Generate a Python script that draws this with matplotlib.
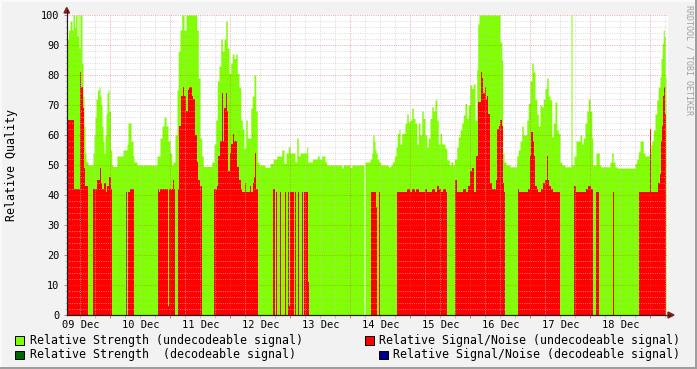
import numpy as np
import matplotlib
matplotlib.use('Agg')
import matplotlib.pyplot as plt
from matplotlib.patches import Rectangle, Polygon
from matplotlib.lines import Line2D
from matplotlib.transforms import blended_transform_factory

plt.rcParams['font.family'] = 'DejaVu Sans Mono'

# hours since 09 Dec 00:00 -> value, each value holds until the next step
green_steps = [
    (6.8, 92), (7.4, 95), (8.0, 98), (8.8, 95), (9.2, 100), (9.8, 96), (10.2, 100), (10.8, 93),
    (11.2, 100), (11.6, 89), (12.0, 100), (12.8, 84), (13.2, 73), (13.6, 63), (14.0, 54), (14.4, 51),
    (15.2, 50), (17.2, 54), (17.6, 60), (18.0, 66), (18.4, 72), (19.0, 75), (19.6, 76), (20.0, 73),
    (20.4, 70), (20.8, 63), (21.2, 58), (21.6, 54), (22.0, 60), (22.4, 67), (22.8, 74), (23.2, 75),
    (23.6, 68), (24.2, 55), (24.7, 50), (25.2, 49.5), (26.8, 53), (29.2, 55), (30.8, 57), (31.2, 64),
    (32.4, 58), (33.2, 53), (33.6, 51), (34.8, 50), (42.8, 53), (44.0, 59), (44.8, 63), (45.6, 66),
    (46.4, 63), (47.2, 58), (48.0, 54), (48.7, 50), (49.2, 51), (50.0, 60), (50.8, 75), (51.3, 88),
    (52.0, 95), (52.7, 100), (53.6, 95), (54.4, 100), (58.7, 95), (59.3, 79), (60.0, 59), (60.7, 53),
    (61.3, 49.5), (64.7, 51), (65.6, 57), (66.3, 65), (66.9, 78), (67.6, 83), (68.3, 92), (68.9, 88),
    (69.6, 92), (70.3, 98), (70.9, 89), (71.6, 80.5), (72.3, 84), (72.9, 87), (73.6, 85.5), (74.3, 87),
    (74.9, 80.5), (75.6, 76), (76.3, 65), (76.9, 62), (77.6, 55.6), (78.3, 65), (78.9, 59), (80.3, 69),
    (80.9, 73), (81.6, 80), (82.3, 68), (82.9, 51), (83.6, 50), (86.0, 49.2), (88.0, 50.5), (89.3, 52),
    (90.7, 53), (92.7, 55), (93.6, 50.5), (94.4, 54), (95.3, 56), (96.0, 54), (98.0, 51), (98.7, 59),
    (99.3, 53), (100.0, 54), (102.7, 56), (103.1, 51), (104.9, 52), (106.9, 53), (107.7, 52), (108.7, 53),
    (110.0, 51), (110.7, 50), (116.7, 49), (117.3, 50), (120.0, 49.2), (120.7, 50), (125.6, 0), (126.0, 51),
    (128.0, 52), (128.7, 54), (129.1, 60), (129.6, 58), (130.0, 55), (130.4, 54), (130.9, 52), (131.6, 51),
    (132.3, 50), (135.3, 49.4), (136.3, 50), (136.9, 51), (137.7, 53), (138.4, 56), (138.9, 60.5), (139.6, 62),
    (140.0, 57), (140.7, 60.5), (142.0, 64), (142.7, 67), (143.3, 64.4), (144.0, 65), (144.7, 69), (145.3, 65.5),
    (146.0, 64), (146.7, 57), (147.3, 64), (148.0, 60), (148.7, 68), (149.3, 65.5), (150.0, 60), (150.7, 56),
    (151.3, 59), (152.0, 65.5), (152.7, 69.4), (153.3, 68), (154.0, 71.7), (154.7, 65), (155.3, 57), (156.0, 60.5),
    (156.7, 57), (158.0, 55.6), (158.7, 51.7), (159.7, 50), (160.3, 51), (161.1, 50), (161.7, 52), (162.7, 56),
    (163.3, 59.4), (164.0, 61.7), (164.7, 64), (165.3, 66.7), (166.0, 70.5), (166.7, 65.5), (167.3, 70), (168.0, 76.7),
    (168.7, 75.5), (169.3, 77), (170.0, 65), (170.7, 81.7), (171.1, 97), (171.6, 100), (180.0, 91), (180.7, 85),
    (181.1, 54), (181.6, 51), (182.4, 50), (184.0, 49.4), (186.7, 53), (187.3, 55), (188.0, 58), (188.7, 63),
    (189.3, 60), (190.7, 65), (191.3, 70.5), (192.0, 78), (192.7, 84), (193.3, 81), (194.0, 72), (194.7, 67),
    (195.3, 63), (196.0, 70), (196.7, 69.4), (197.3, 72), (198.0, 75.5), (198.7, 79), (199.3, 73), (200.0, 71.7),
    (200.7, 59.4), (201.3, 64), (202.0, 71), (202.7, 61.7), (203.3, 60.5), (204.0, 51), (204.7, 50), (206.0, 49.4),
    (208.4, 100), (208.8, 50), (209.6, 53), (210.4, 58), (212.0, 60), (212.7, 57), (213.3, 59), (214.0, 64),
    (214.7, 68), (215.3, 72), (216.0, 68), (216.7, 59), (217.1, 50), (218.4, 54), (219.7, 50), (220.3, 49.4),
    (224.0, 51), (224.7, 54), (225.3, 51), (226.0, 49.4), (226.7, 49), (234.0, 50.5), (234.7, 52), (235.3, 54.4),
    (236.0, 58), (237.3, 54), (238.0, 53), (239.7, 54.4), (240.3, 56.7), (240.7, 58), (241.3, 61.7), (242.0, 67),
    (242.7, 71.7), (243.3, 76), (244.0, 79.4), (244.4, 85.5), (244.9, 90.5), (245.3, 95), (245.7, 92.8), (246.1, 79.4),
]

red_steps = [
    (6.8, 65), (9.6, 42), (12.0, 81), (12.3, 76), (13.1, 69), (13.6, 49), (14.0, 43), (15.2, 0),
    (17.2, 42), (18.7, 45), (20.0, 49), (20.3, 44), (20.8, 42), (21.6, 44), (22.3, 41), (22.8, 43),
    (23.6, 46), (24.3, 42), (24.7, 0), (30.5, 41), (30.9, 0), (31.2, 41), (31.9, 42), (33.6, 0),
    (43.2, 42), (43.6, 41), (44.0, 42), (47.3, 3), (47.7, 42), (49.2, 45), (49.6, 42), (50.0, 0),
    (51.0, 42), (51.6, 63), (52.3, 73), (53.1, 76), (53.6, 73), (54.4, 68), (55.1, 75), (55.7, 76),
    (56.7, 73), (57.3, 72), (58.0, 60), (58.7, 54), (58.9, 51), (59.3, 45), (60.0, 43), (60.7, 0),
    (65.6, 42), (66.7, 43), (67.3, 53), (68.0, 58), (68.9, 74), (69.3, 58), (69.7, 69), (70.3, 74),
    (70.7, 68), (71.3, 48), (72.0, 54), (72.5, 57), (73.1, 60.5), (73.6, 58), (74.9, 49.4), (75.7, 45),
    (76.3, 42), (76.9, 41), (78.0, 44), (78.4, 41), (80.0, 43), (80.4, 41), (81.1, 44), (81.6, 46),
    (82.0, 54), (82.4, 42), (83.1, 0), (89.2, 42), (90.0, 0), (90.4, 41), (90.8, 0), (92.0, 41),
    (92.4, 0), (93.9, 41), (94.3, 0), (95.1, 41), (95.7, 3), (96.0, 41), (96.7, 0), (96.9, 41),
    (97.6, 0), (98.0, 41), (98.5, 0), (99.2, 41), (99.7, 0), (100.7, 41), (101.1, 0), (101.6, 41),
    (103.2, 11), (103.6, 0), (128.5, 41), (130.4, 36), (130.8, 0), (131.6, 41), (132.0, 0), (138.7, 41),
    (142.7, 42), (144.0, 41), (144.7, 42), (145.9, 41), (146.5, 42), (147.6, 41), (150.0, 42), (150.9, 41),
    (152.9, 42), (153.9, 41), (154.8, 43), (155.6, 42), (156.4, 41), (157.3, 42), (158.3, 41), (158.7, 0),
    (162.0, 45), (162.7, 41), (165.3, 42), (166.4, 41), (167.3, 43), (168.0, 48), (168.9, 49), (169.6, 41),
    (170.4, 53), (171.1, 71), (172.4, 81), (172.8, 79), (173.3, 74), (173.9, 76), (174.4, 72), (174.9, 73),
    (175.3, 67), (176.0, 44), (176.7, 42), (178.4, 45), (178.9, 62), (179.5, 63), (180.0, 65), (180.7, 63),
    (181.1, 44), (181.6, 41), (182.0, 0), (187.1, 42), (187.7, 41), (191.3, 42), (192.0, 53), (192.4, 61),
    (193.1, 58), (193.6, 53), (194.0, 43), (194.7, 42), (195.3, 41), (196.3, 42), (197.3, 44), (198.0, 45),
    (198.7, 53), (199.1, 45), (199.7, 43), (200.3, 42), (201.1, 41), (204.0, 0), (209.6, 43), (210.3, 41),
    (214.3, 42), (215.2, 43), (216.3, 42), (217.1, 0), (218.4, 41), (219.7, 0), (225.2, 41), (225.5, 0),
    (235.6, 41), (240.0, 62), (240.3, 41), (243.3, 44), (244.0, 47), (244.4, 58), (244.9, 63), (245.3, 73),
    (245.7, 76), (246.1, 67),
]
end_hour = 246.4

day_labels = ['09 Dec', '10 Dec', '11 Dec', '12 Dec', '13 Dec',
              '14 Dec', '15 Dec', '16 Dec', '17 Dec', '18 Dec']

legend_left = ['Relative Strength (undecodeable signal)',
               'Relative Strength  (decodeable signal)']
legend_right = ['Relative Signal/Noise (undecodeable signal)',
                'Relative Signal/Noise (decodeable signal)']

GREEN = '#80FF00'
RED = '#FF0000'
DKGREEN = '#006600'
BLUE = '#00008C'

W, H = 697, 369
fig = plt.figure(figsize=(W / 100, H / 100), dpi=100, facecolor='#F2F2F2')


def fx(px):
    return px / W


def fy(py):
    return 1 - py / H


ax = fig.add_axes([fx(66.5), fy(315), fx(668) - fx(66.5), fy(15) - fy(315)])
ax.set_facecolor('white')

for steps, col, z in [(green_steps, GREEN, 1), (red_steps, RED, 2)]:
    t, v = zip(*steps)
    t = np.append(t, end_hour)
    v = np.append(v, v[-1])
    ax.fill_between(t, 0, v, step='post', color=col, lw=0, zorder=z)

ax.set_xlim(6.6, 247.2)
ax.set_ylim(0, 100)

ax.set_xticks(np.arange(24, 247, 24))
ax.set_xticks(np.arange(12, 247, 6), minor=True)
ax.set_yticks(np.arange(0, 101, 10))
ax.set_yticks(np.arange(0, 101, 2), minor=True)

ax.grid(which='minor', color='#C8C8C8', alpha=0.7, lw=0.6, linestyle=(0, (1.2, 1.5)), zorder=3)
ax.grid(which='major', color='#E05050', alpha=0.55, lw=0.6, linestyle=(0, (1.2, 1.5)), zorder=3)
ax.set_axisbelow(False)

ax.tick_params(axis='x', which='major', length=2.5, width=0.7, color='#E07070', labelbottom=False)
ax.tick_params(axis='x', which='minor', length=2, width=0.6, color='#BBBBBB')
ax.tick_params(axis='y', which='major', length=2, width=0.7, color='#E07070',
               labelsize=7.4, pad=3.2, labelcolor='black')
ax.tick_params(axis='y', which='minor', length=1.5, width=0.6, color='#BBBBBB')

for s in ['top', 'right']:
    ax.spines[s].set_visible(False)
for s in ['left', 'bottom']:
    ax.spines[s].set_color('#1F1F1F')
    ax.spines[s].set_linewidth(0.8)
    ax.spines[s].set_zorder(4)

# axis extensions and arrows
fig.add_artist(Line2D([fx(66.5), fx(66.5)], [fy(315), fy(10)], color='#1F1F1F', lw=0.8))
fig.add_artist(Line2D([fx(66.5), fx(670)], [fy(315), fy(315)], color='#1F1F1F', lw=0.8))
fig.add_artist(Polygon([(fx(64), fy(13)), (fx(69.5), fy(13)), (fx(66.7), fy(7.5))],
                       closed=True, color='#7F1F1F', transform=fig.transFigure))
fig.add_artist(Polygon([(fx(668), fy(312)), (fx(668), fy(318)), (fx(674), fy(315))],
                       closed=True, color='#7F1F1F', transform=fig.transFigure))

trans = blended_transform_factory(ax.transData, fig.transFigure)
for i, lab in enumerate(day_labels):
    ax.text(24 * i + 12.3, fy(324.5), lab, transform=trans, ha='center', va='center',
            fontsize=7.5, clip_on=False)

fig.text(fx(12), fy(165), 'Relative Quality', rotation=90, ha='center', va='center', fontsize=8.4)
fig.text(fx(688.5), fy(60), 'RRDTOOL / TOBI OETIKER', rotation=270, ha='center', va='center',
         fontsize=6, color='#A0A0A0')

# legend
boxes = [(15, 336, GREEN), (15, 350.5, DKGREEN), (365, 336, RED), (379.3, 350.5, BLUE)]
for bx, by, col in boxes:
    fig.add_artist(Rectangle((fx(bx), fy(by + 8.5)), 8.5 / W, 8.5 / H, transform=fig.transFigure,
                             facecolor=col, edgecolor='black', lw=0.7))
for row, (lt, rt) in enumerate(zip(legend_left, legend_right)):
    yc = 340.5 + row * 14.2
    fig.text(fx(30), fy(yc), lt, ha='left', va='center', fontsize=8.35)
    fig.text(fx(679.8), fy(yc), rt, ha='right', va='center', fontsize=8.35)

# frame shading
fig.add_artist(Rectangle((0, 0), 1, 2.5 / H, transform=fig.transFigure, color='#9E9E9E', lw=0))
fig.add_artist(Rectangle((1 - 2.5 / W, 0), 2.5 / W, 1, transform=fig.transFigure, color='#9E9E9E', lw=0))
fig.add_artist(Rectangle((0, 1 - 2 / H), 1 - 2.5 / W, 2 / H, transform=fig.transFigure, color='#FAFAFA', lw=0))
fig.add_artist(Rectangle((0, 2.5 / H), 2 / W, 1, transform=fig.transFigure, color='#FAFAFA', lw=0))

fig.savefig('out.png', dpi=100, facecolor=fig.get_facecolor())
